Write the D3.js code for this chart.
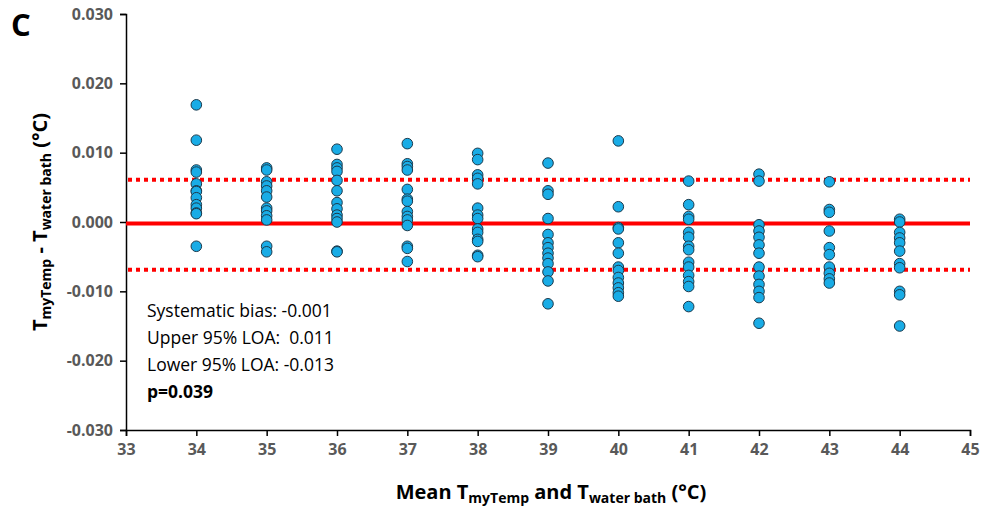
<!DOCTYPE html>
<html><head><meta charset="utf-8">
<script src="https://cdn.jsdelivr.net/npm/d3@7"></script>
<style>body{margin:0;background:#fff}</style>
</head><body>
<svg id="c" width="987" height="507"></svg>
<script>
const xTicks = [33,34,35,36,37,38,39,40,41,42,43,44,45];
const yTicks = [-0.030,-0.020,-0.010,0.000,0.010,0.020,0.030];
const temps = [34,35,36,37,38,39,40,41,42,43,44];
const diffs = [
  [0.0169,0.0118,0.0075,0.0072,0.0055,0.0045,0.0044,0.0035,0.0025,0.0020,0.0013,0.0012,-0.0035],
  [0.0078,0.0075,0.0058,0.0052,0.0045,0.0036,0.0020,0.0016,0.0009,0.0003,-0.0035,-0.0043],
  [0.0105,0.0083,0.0078,0.0073,0.0060,0.0045,0.0028,0.0019,0.0010,0.0005,0.0000,-0.0042,-0.0043],
  [0.0113,0.0084,0.0080,0.0075,0.0047,0.0033,0.0030,0.0015,0.0008,0.0003,-0.0005,-0.0035,-0.0038,-0.0057],
  [0.0099,0.0090,0.0068,0.0063,0.0055,0.0020,0.0010,0.0005,-0.0010,-0.0015,-0.0025,-0.0028,-0.0048,-0.0050],
  [0.0085,0.0045,0.0040,0.0005,-0.0018,-0.0030,-0.0037,-0.0045,-0.0052,-0.0060,-0.0072,-0.0085,-0.0118],
  [0.0117,0.0022,-0.0008,-0.0010,-0.0030,-0.0045,-0.0065,-0.0070,-0.0080,-0.0088,-0.0095,-0.0102,-0.0107],
  [0.0059,0.0025,0.0008,0.0004,-0.0015,-0.0022,-0.0035,-0.0040,-0.0058,-0.0065,-0.0077,-0.0086,-0.0093,-0.0122],
  [0.0069,0.0059,-0.0004,-0.0013,-0.0022,-0.0033,-0.0045,-0.0065,-0.0078,-0.0090,-0.0100,-0.0109,-0.0146],
  [0.0058,0.0018,0.0014,-0.0013,-0.0037,-0.0047,-0.0065,-0.0074,-0.0082,-0.0088],
  [0.0004,0.0000,-0.0015,-0.0023,-0.0030,-0.0042,-0.0060,-0.0066,-0.0100,-0.0105,-0.0150]
];
const biasLine = -0.0002;
const upperLine = 0.0061;
const lowerLine = -0.0069;
const notes = ["Systematic bias: -0.001","Upper 95% LOA:  0.011","Lower 95% LOA: -0.013","p=0.039"];

const svg = d3.select("#c");
const L=126, R=970, T=14, B=430;
const x = d3.scaleLinear().domain([33,45]).range([L,R]);
const y = d3.scaleLinear().domain([-0.03,0.03]).range([B,T]);
const font = "'Open Sans', sans-serif";
const yFmt = v => d3.format(".3f")(v).replace("\u2212","-");

// x axis
const xa = svg.append("g").attr("transform",`translate(0,${B})`)
  .call(d3.axisBottom(x).tickValues(xTicks).tickFormat(d3.format("d")).tickSizeOuter(0).tickSize(6));
xa.select(".domain").attr("stroke","#000").attr("stroke-width",1.5);
xa.selectAll(".tick line").attr("stroke","#000").attr("stroke-width",1.5);
xa.selectAll("text").attr("fill","#595959").attr("font-family",font).attr("font-weight","bold").attr("font-size","16px").attr("dy","1.0em");

const ya = svg.append("g").attr("transform",`translate(${L},0)`)
  .call(d3.axisLeft(y).tickValues(yTicks).tickFormat(yFmt).tickSizeOuter(0).tickSize(6));
ya.select(".domain").attr("stroke","#000").attr("stroke-width",1.5);
ya.selectAll(".tick line").attr("stroke","#000").attr("stroke-width",1.5);
ya.selectAll("text").attr("fill","#595959").attr("font-family",font).attr("font-weight","bold").attr("font-size","16px").attr("x",-13);

// lines
const lineG = svg.append("g");
lineG.append("line").attr("x1",L).attr("x2",R).attr("y1",y(biasLine)).attr("y2",y(biasLine))
  .attr("stroke","#ff0000").attr("stroke-width",4);
[upperLine,lowerLine].forEach(v=>{
  lineG.append("line").attr("x1",L+2).attr("x2",R).attr("y1",y(v)).attr("y2",y(v))
    .attr("stroke","#ff0000").attr("stroke-width",4).attr("stroke-dasharray","4,4");
});

// points
const pts = [];
temps.forEach((t,i)=>diffs[i].forEach(d=>pts.push({t,d})));
svg.append("g").selectAll("circle").data(pts).join("circle")
  .attr("cx",d=>x(d.t)).attr("cy",d=>y(d.d)).attr("r",5.3)
  .attr("fill","#19ace6").attr("stroke","#1c3a4c").attr("stroke-width",1);

// notes
const ng = svg.append("g").attr("font-family",font).attr("font-size","17.5px").attr("fill","#000");
notes.forEach((n,i)=>{
  ng.append("text").attr("x",147).attr("y",317+i*27).attr("font-weight",i===3?"bold":"normal")
    .attr("xml:space","preserve").style("white-space","pre").text(n);
});

// panel letter
svg.append("text").attr("x",11).attr("y",36).attr("font-family",font).attr("font-weight","bold")
  .attr("font-size","31px").text("C");

// axis titles
const xt = svg.append("text").attr("x",551).attr("y",499).attr("text-anchor","middle")
  .attr("font-family",font).attr("font-weight","bold").attr("font-size","20px").attr("fill","#000");
xt.append("tspan").text("Mean T");
xt.append("tspan").attr("font-size","14px").attr("dy",4).text("myTemp");
xt.append("tspan").attr("dy",-4).text(" and T");
xt.append("tspan").attr("font-size","14px").attr("dy",4).text("water bath");
xt.append("tspan").attr("dy",-4).text(" (°C)");

const yt = svg.append("text").attr("transform",`translate(47,${(T+B)/2}) rotate(-90)`).attr("text-anchor","middle")
  .attr("font-family",font).attr("font-weight","bold").attr("font-size","20px").attr("fill","#000");
yt.append("tspan").text("T");
yt.append("tspan").attr("font-size","14px").attr("dy",4).text("myTemp");
yt.append("tspan").attr("dy",-4).text(" - T");
yt.append("tspan").attr("font-size","14px").attr("dy",4).text("water bath");
yt.append("tspan").attr("dy",-4).text(" (°C)");
</script>
</body></html>
